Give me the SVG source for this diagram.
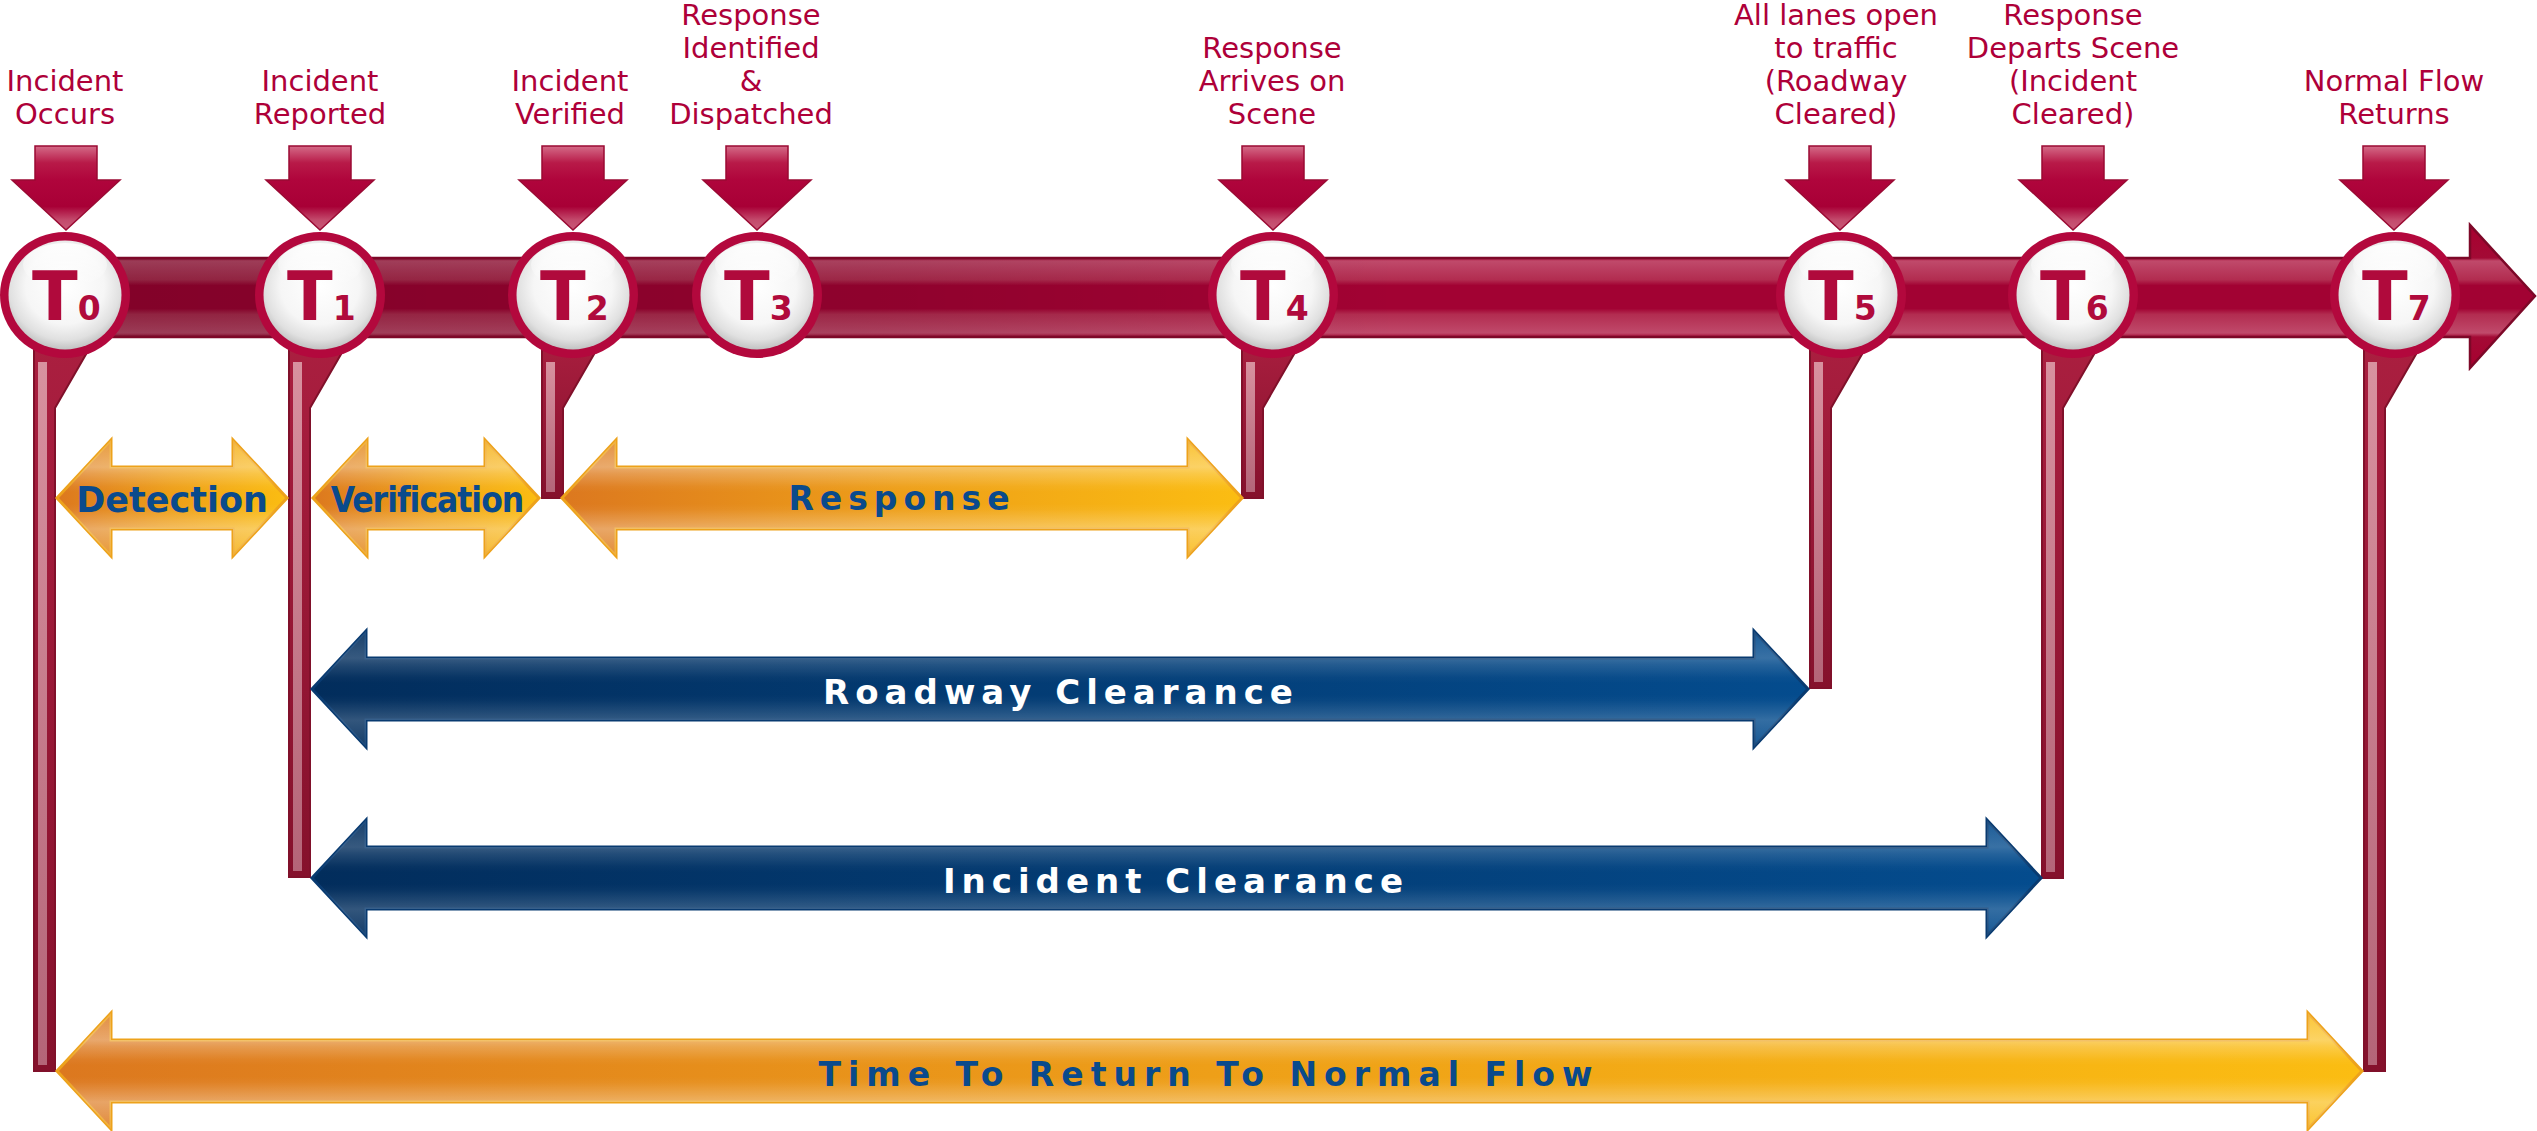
<svg xmlns="http://www.w3.org/2000/svg" width="2537" height="1131" viewBox="0 0 2537 1131">
<defs>
<linearGradient id="gBar" gradientUnits="userSpaceOnUse" x1="0" y1="225" x2="0" y2="369">
<stop offset="0" stop-color="#a8002f"/>
<stop offset="0.229" stop-color="#a30a35"/>
<stop offset="0.25" stop-color="#c04a6b"/>
<stop offset="0.38" stop-color="#b22c50"/>
<stop offset="0.42" stop-color="#a20233"/>
<stop offset="0.58" stop-color="#a20233"/>
<stop offset="0.62" stop-color="#b22c50"/>
<stop offset="0.75" stop-color="#c04a6b"/>
<stop offset="0.778" stop-color="#a30a35"/>
<stop offset="1" stop-color="#a8002f"/>
</linearGradient>
<linearGradient id="gBarDark" x1="0" y1="0" x2="1" y2="0">
<stop offset="0" stop-color="#000" stop-opacity="0.2"/>
<stop offset="0.6" stop-color="#000" stop-opacity="0.12"/>
<stop offset="1" stop-color="#000" stop-opacity="0"/>
</linearGradient>
<linearGradient id="gDown" x1="0" y1="0" x2="0" y2="1">
<stop offset="0" stop-color="#d46b88"/>
<stop offset="0.2" stop-color="#b81a48"/>
<stop offset="0.4" stop-color="#b0053c"/>
<stop offset="0.72" stop-color="#a80036"/>
<stop offset="0.88" stop-color="#c34a6c"/>
<stop offset="1" stop-color="#c85a78"/>
</linearGradient>
<radialGradient id="gFace" cx="0.5" cy="0.42" r="0.58">
<stop offset="0" stop-color="#ffffff"/>
<stop offset="0.6" stop-color="#f6f6f6"/>
<stop offset="0.85" stop-color="#e0e0e0"/>
<stop offset="1" stop-color="#c2c2c2"/>
</radialGradient>
<linearGradient id="gHi" x1="0" y1="0" x2="0" y2="1">
<stop offset="0" stop-color="#ffffff" stop-opacity="0.9"/>
<stop offset="1" stop-color="#ffffff" stop-opacity="0"/>
</linearGradient>
<linearGradient id="gStem" x1="0" y1="0" x2="0" y2="1">
<stop offset="0" stop-color="#ab1f40"/>
<stop offset="1" stop-color="#85112c"/>
</linearGradient>
<linearGradient id="gStrip" x1="0" y1="0" x2="0" y2="1">
<stop offset="0" stop-color="#d8919f"/>
<stop offset="1" stop-color="#b46578"/>
</linearGradient>
<linearGradient id="gOrange" x1="0" y1="0" x2="1" y2="0">
<stop offset="0" stop-color="#dc781f"/>
<stop offset="0.5" stop-color="#ee9f18"/>
<stop offset="1" stop-color="#fbbd12"/>
</linearGradient>
<linearGradient id="gBlue" x1="0" y1="0" x2="1" y2="0">
<stop offset="0" stop-color="#022d5c"/>
<stop offset="1" stop-color="#044c8e"/>
</linearGradient>
<linearGradient id="gGloss" x1="0" y1="0" x2="0" y2="1">
<stop offset="0" stop-color="#fff" stop-opacity="0.15"/>
<stop offset="0.233" stop-color="#fff" stop-opacity="0.35"/>
<stop offset="0.29" stop-color="#fff" stop-opacity="0.22"/>
<stop offset="0.4" stop-color="#fff" stop-opacity="0.04"/>
<stop offset="0.45" stop-color="#fff" stop-opacity="0"/>
<stop offset="0.55" stop-color="#fff" stop-opacity="0"/>
<stop offset="0.6" stop-color="#fff" stop-opacity="0.04"/>
<stop offset="0.71" stop-color="#fff" stop-opacity="0.22"/>
<stop offset="0.767" stop-color="#fff" stop-opacity="0.32"/>
<stop offset="1" stop-color="#fff" stop-opacity="0.12"/>
</linearGradient>
<g id="dn"><polygon points="-31,146 31,146 31,180 54,180 0,230 -54,180 -31,180" fill="url(#gDown)" stroke="#9a0a33" stroke-width="1.5"/></g>
<g id="disc">
<ellipse cx="0" cy="0" rx="65" ry="63" fill="#b3083d"/>
<ellipse cx="0" cy="0" rx="56.5" ry="54.5" fill="url(#gFace)"/>
<ellipse cx="0" cy="-30" rx="42" ry="22" fill="url(#gHi)"/>
</g>
</defs>
<style>
.lbl{font-family:"DejaVu Sans",sans-serif;font-size:29px;fill:#ae0039;text-anchor:middle}
.tn{font-family:"DejaVu Sans",sans-serif;font-weight:bold;font-size:67px;fill:#b00a3c}
.tn tspan{font-size:33px}
.stem{fill:url(#gStem);stroke:#80102a;stroke-width:2}
.strip{fill:url(#gStrip)}
.orange{fill:url(#gOrange);stroke:#eda21b;stroke-width:3;stroke-linejoin:miter}
.blue{fill:url(#gBlue);stroke:#083a70;stroke-width:3}
.gloss{fill:url(#gGloss)}
.glossb{fill:url(#gGloss);opacity:0.6}
.at{font-family:"DejaVu Sans",sans-serif;font-weight:bold;text-anchor:middle}
.cond{font-family:"DejaVu Sans Condensed","DejaVu Sans",sans-serif;font-stretch:condensed}
.ob{fill:#0a4a8c}
.wt{fill:#ffffff}
</style>

<g id="timeline">
<polygon points="60,258 2470,258 2470,225 2535,296 2470,368 2470,337 60,337" fill="url(#gBar)" stroke="#7d0828" stroke-width="2.5"/>
<rect x="60" y="259" width="1340" height="77" fill="url(#gBarDark)"/>
</g>

<g id="connectors">
<polygon class="stem" points="34,330 100,330 55,408 55,1071 34,1071"/>
<rect class="strip" x="38" y="362" width="9" height="703"/>
<polygon class="stem" points="289,330 355,330 310,408 310,877 289,877"/>
<rect class="strip" x="293" y="362" width="9" height="509"/>
<polygon class="stem" points="542,330 608,330 563,408 563,498 542,498"/>
<rect class="strip" x="546" y="362" width="9" height="130"/>
<polygon class="stem" points="1242,330 1308,330 1263,408 1263,498 1242,498"/>
<rect class="strip" x="1246" y="362" width="9" height="130"/>
<polygon class="stem" points="1810,330 1876,330 1831,408 1831,688 1810,688"/>
<rect class="strip" x="1814" y="362" width="9" height="320"/>
<polygon class="stem" points="2042,330 2108,330 2063,408 2063,878 2042,878"/>
<rect class="strip" x="2046" y="362" width="9" height="510"/>
<polygon class="stem" points="2364,330 2430,330 2385,408 2385,1071 2364,1071"/>
<rect class="strip" x="2368" y="362" width="9" height="703"/>
</g>

<g id="t0">
<text class="lbl" x="65" y="91">Incident</text><text class="lbl" x="65" y="124">Occurs</text>
<use href="#dn" x="66" y="0"/>
<use href="#disc" x="65" y="295"/>
<text class="tn" x="32" y="320">T<tspan>0</tspan></text>
</g>
<g id="t1">
<text class="lbl" x="320" y="91">Incident</text><text class="lbl" x="320" y="124">Reported</text>
<use href="#dn" x="320" y="0"/>
<use href="#disc" x="320" y="295"/>
<text class="tn" x="287" y="320">T<tspan>1</tspan></text>
</g>
<g id="t2">
<text class="lbl" x="570" y="91">Incident</text><text class="lbl" x="570" y="124">Verified</text>
<use href="#dn" x="573" y="0"/>
<use href="#disc" x="573" y="295"/>
<text class="tn" x="540" y="320">T<tspan>2</tspan></text>
</g>
<g id="t3">
<text class="lbl" x="751" y="25">Response</text><text class="lbl" x="751" y="58">Identified</text><text class="lbl" x="751" y="91">&amp;</text><text class="lbl" x="751" y="124">Dispatched</text>
<use href="#dn" x="757" y="0"/>
<use href="#disc" x="757" y="295"/>
<text class="tn" x="724" y="320">T<tspan>3</tspan></text>
</g>
<g id="t4">
<text class="lbl" x="1272" y="58">Response</text><text class="lbl" x="1272" y="91">Arrives on</text><text class="lbl" x="1272" y="124">Scene</text>
<use href="#dn" x="1273" y="0"/>
<use href="#disc" x="1273" y="295"/>
<text class="tn" x="1240" y="320">T<tspan>4</tspan></text>
</g>
<g id="t5">
<text class="lbl" x="1836" y="25">All lanes open</text><text class="lbl" x="1836" y="58">to traffic</text><text class="lbl" x="1836" y="91">(Roadway</text><text class="lbl" x="1836" y="124">Cleared)</text>
<use href="#dn" x="1840" y="0"/>
<use href="#disc" x="1841" y="295"/>
<text class="tn" x="1808" y="320">T<tspan>5</tspan></text>
</g>
<g id="t6">
<text class="lbl" x="2073" y="25">Response</text><text class="lbl" x="2073" y="58">Departs Scene</text><text class="lbl" x="2073" y="91">(Incident</text><text class="lbl" x="2073" y="124">Cleared)</text>
<use href="#dn" x="2073" y="0"/>
<use href="#disc" x="2073" y="295"/>
<text class="tn" x="2040" y="320">T<tspan>6</tspan></text>
</g>
<g id="t7">
<text class="lbl" x="2394" y="91">Normal Flow</text><text class="lbl" x="2394" y="124">Returns</text>
<use href="#dn" x="2394" y="0"/>
<use href="#disc" x="2395" y="295"/>
<text class="tn" x="2362" y="320">T<tspan>7</tspan></text>
</g>

<g id="detection">
<polygon class="orange" points="57,498 111,440 111,467 233,467 233,440 287,498 233,556 233,529 111,529 111,556"/>
<polygon class="gloss" points="57,498 111,440 111,467 233,467 233,440 287,498 233,556 233,529 111,529 111,556"/>
<text class="at ob" x="172" y="512" font-size="35">Detection</text>
</g>
<g id="verification">
<polygon class="orange" points="313,498 367,440 367,467 485,467 485,440 539,498 485,556 485,529 367,529 367,556"/>
<polygon class="gloss" points="313,498 367,440 367,467 485,467 485,440 539,498 485,556 485,529 367,529 367,556"/>
<text class="at ob cond" x="427" y="512" font-size="35" letter-spacing="-1">Verification</text>
</g>
<g id="response">
<polygon class="orange" points="562,498 616,440 616,467 1188,467 1188,440 1242,498 1188,556 1188,529 616,529 616,556"/>
<polygon class="gloss" points="562,498 616,440 616,467 1188,467 1188,440 1242,498 1188,556 1188,529 616,529 616,556"/>
<text class="at ob" x="902" y="510" font-size="33" letter-spacing="6">Response</text>
</g>
<g id="roadway-clearance">
<polygon class="blue" points="312,689 366,631 366,658 1754,658 1754,631 1808,689 1754,747 1754,720 366,720 366,747"/>
<polygon class="glossb" points="312,689 366,631 366,658 1754,658 1754,631 1808,689 1754,747 1754,720 366,720 366,747"/>
<text class="at wt" x="1061" y="704" font-size="34" letter-spacing="6">Roadway Clearance</text>
</g>
<g id="incident-clearance">
<polygon class="blue" points="312,878 366,820 366,847 1987,847 1987,820 2041,878 1987,936 1987,909 366,909 366,936"/>
<polygon class="glossb" points="312,878 366,820 366,847 1987,847 1987,820 2041,878 1987,936 1987,909 366,909 366,936"/>
<text class="at wt" x="1176" y="893" font-size="34" letter-spacing="6">Incident Clearance</text>
</g>
<g id="time-to-return">
<polygon class="orange" points="57,1071 111,1013 111,1040 2308,1040 2308,1013 2362,1071 2308,1129 2308,1102 111,1102 111,1129"/>
<polygon class="gloss" points="57,1071 111,1013 111,1040 2308,1040 2308,1013 2362,1071 2308,1129 2308,1102 111,1102 111,1129"/>
<text class="at ob" x="1209" y="1086" font-size="33" letter-spacing="7">Time To Return To Normal Flow</text>
</g>
</svg>
